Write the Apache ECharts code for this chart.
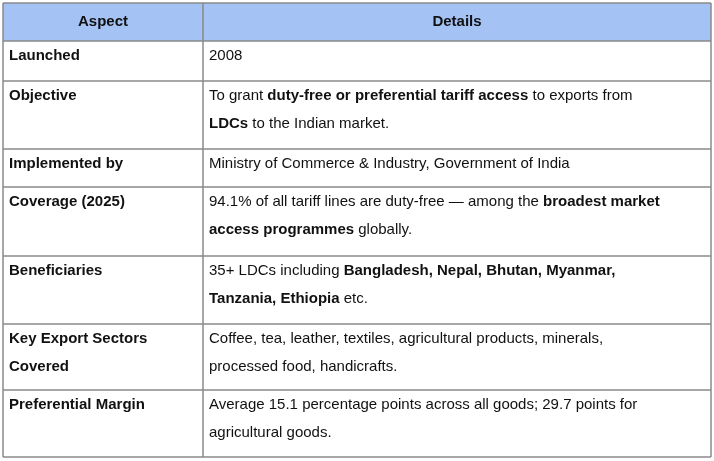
<!DOCTYPE html>
<html>
<head>
<meta charset="utf-8">
<script src="https://cdn.jsdelivr.net/npm/echarts@6/dist/echarts.min.js"></script>
<style>html,body{margin:0;padding:0;background:#fff}#main{width:714px;height:461px}</style>
</head>
<body>
<div id="main"></div>
<script>
var headers = ['Aspect', 'Details'];
var aspects = ['Launched', 'Objective', 'Implemented by', 'Coverage (2025)', 'Beneficiaries', 'Key Export Sectors\nCovered', 'Preferential Margin'];
// {b|...} marks bold runs, \n is a line break as in the picture
var details = [
    '2008',
    'To grant {b|duty-free or preferential tariff access} to exports from\n{b|LDCs} to the Indian market.',
    'Ministry of Commerce & Industry, Government of India',
    '94.1% of all tariff lines are duty-free — among the {b|broadest market}\n{b|access programmes} globally.',
    '35+ LDCs including {b|Bangladesh, Nepal, Bhutan, Myanmar,}\n{b|Tanzania, Ethiopia} etc.',
    'Coffee, tea, leather, textiles, agricultural products, minerals,\nprocessed food, handicrafts.',
    'Average 15.1 percentage points across all goods; 29.7 points for\nagricultural goods.'
];
var rowLines = [3, 41, 81, 149, 187, 256, 324, 390, 457];
var colLines = [3, 203, 711];

var font = 'Liberation Sans, Arial, sans-serif';
var elements = [];
// header background
elements.push({type: 'rect', shape: {x: colLines[0], y: rowLines[0], width: colLines[2] - colLines[0], height: rowLines[1] - rowLines[0]}, style: {fill: '#a4c2f4'}});
// header text
for (var c = 0; c < 2; c++) {
    elements.push({type: 'text', x: (colLines[c] + colLines[c + 1]) / 2, y: (rowLines[0] + rowLines[1]) / 2,
        style: {text: headers[c], font: 'bold 15px ' + font, fill: '#111', align: 'center', verticalAlign: 'middle'}});
}
// body rows
for (var r = 0; r < aspects.length; r++) {
    var rowTop = rowLines[r + 1];
    elements.push({type: 'text', x: colLines[0] + 6, y: rowTop + 1,
        style: {text: aspects[r], font: 'bold 15px ' + font, fill: '#111', lineHeight: 28, verticalAlign: 'top'}});
    elements.push({type: 'text', x: colLines[1] + 6, y: rowTop + 1,
        style: {text: details[r], font: '15px ' + font, fill: '#111', lineHeight: 28, verticalAlign: 'top',
            rich: {b: {font: 'bold 15px ' + font, fill: '#111', lineHeight: 28}}}});
}
// grid lines
rowLines.forEach(function (y) {
    elements.push({type: 'line', shape: {x1: colLines[0], y1: y, x2: colLines[2], y2: y}, style: {stroke: '#8a8a8a', lineWidth: 1.5}});
});
colLines.forEach(function (x) {
    elements.push({type: 'line', shape: {x1: x, y1: rowLines[0], x2: x, y2: rowLines[rowLines.length - 1]}, style: {stroke: '#8a8a8a', lineWidth: 1.5}});
});

var myChart = echarts.init(document.getElementById('main'));
myChart.setOption({animation: false, graphic: {elements: elements}});
</script>
</body>
</html>
